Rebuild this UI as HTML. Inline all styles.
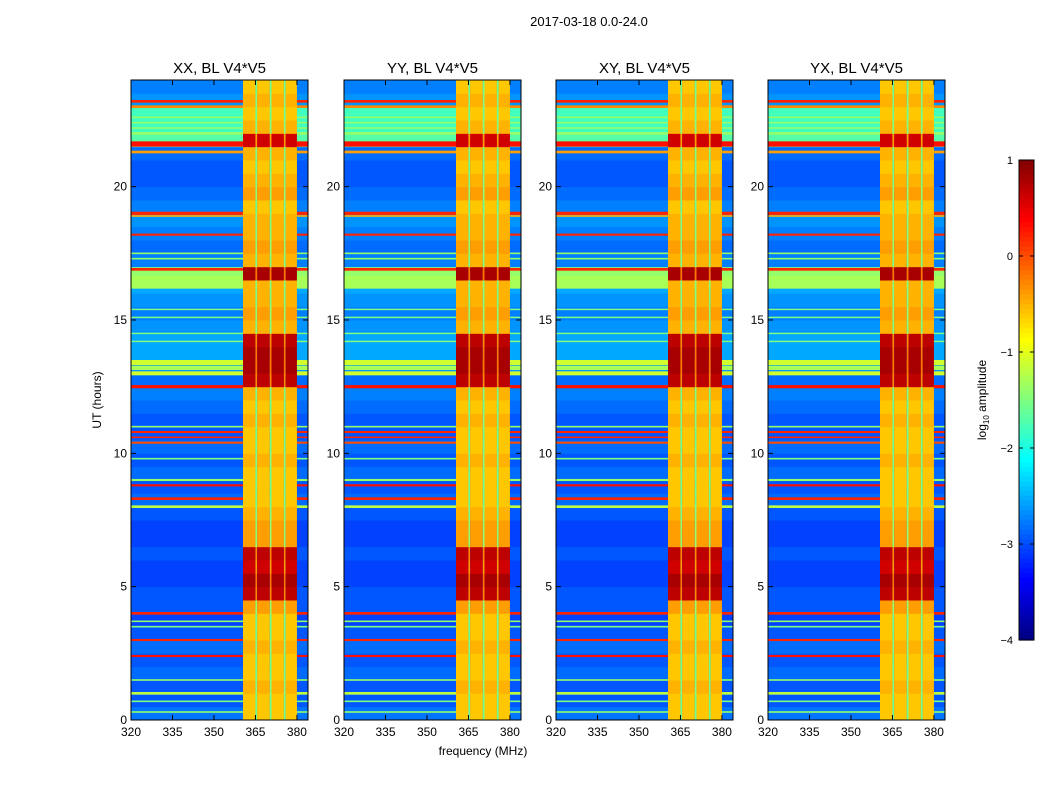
<!DOCTYPE html>
<html><head><meta charset="utf-8"><style>
body{margin:0;background:#fff;font-family:"Liberation Sans",sans-serif;}
svg text{font-family:"Liberation Sans",sans-serif;}
</style></head><body>
<svg id="fig" width="1050" height="800" xmlns="http://www.w3.org/2000/svg">
<rect width="1050" height="800" fill="#fff"/>
<text x="589" y="26" font-size="13" text-anchor="middle">2017-03-18 0.0-24.0</text>
<text x="483" y="755" font-size="12" text-anchor="middle">frequency (MHz)</text>
<text transform="translate(101,400) rotate(-90)" font-size="12" text-anchor="middle">UT (hours)</text>
<g id="panels"></g>
<g id="cbar"></g>
</svg>
<script>
const panelTitles=["XX, BL V4*V5","YY, BL V4*V5","XY, BL V4*V5","YX, BL V4*V5"];
const xTicks=[320,335,350,365,380];
const yTicks=[0,5,10,15,20];
const cbTicks=[1,0,-1,-2,-3,-4];
const cbLabels=["1","0","\u22121","\u22122","\u22123","\u22124"];
// hot band (360.5-380 MHz) level per 0.5h row
const hotRows=[-0.6,-0.6,-0.5,-0.6,-0.6,-0.5,-0.6,-0.6,-0.4,0.7,0.8,0.6,0.7,-0.4,-0.4,-0.5,-0.6,-0.6,-0.6,-0.5,-0.6,-0.6,-0.5,-0.6,-0.5,0.7,0.8,0.8,0.7,-0.5,-0.4,-0.5,-0.5,0.8,-0.5,-0.4,-0.5,-0.5,-0.6,-0.4,-0.5,-0.6,-0.5,0.6,-0.5,-0.6,-0.5,-0.6];
// background (320-360 MHz) level per 0.5h row
const bgRows=[-2.8,-2.95,-2.95,-2.85,-2.95,-2.85,-2.95,-3.05,-2.95,-2.95,-3.05,-3.05,-2.95,-3.05,-3.05,-2.95,-2.85,-2.95,-2.85,-2.95,-2.85,-2.95,-2.95,-2.85,-2.75,-2.85,-2.65,-2.55,-2.55,-2.65,-2.75,-2.65,-2.55,-1.4,-2.75,-2.85,-2.75,-2.65,-2.75,-2.85,-2.95,-2.95,-2.85,-1.7,-1.8,-1.8,-2.65,-2.75];
// sub-column edges and offsets within hot band
const hotEdges=[360.5,365,365.6,370.2,370.8,375.3,375.9,380];
const hotOffsets=[0,-1.0,0,-1.0,0,-1.0,0];
// full-width line events: time (h), thickness (h), level
const lineTimes=[23.2,23.0,22.6,22.4,22.2,22.0,21.6,21.3,19.0,18.9,18.2,17.5,17.3,16.9,16.5,16.3,15.4,15.1,14.5,14.2,13.4,13.2,13.0,12.5,11.0,10.8,10.6,10.4,9.8,9.0,8.8,8.3,8.0,4.0,3.7,3.5,3.0,2.4,1.5,1.0,0.7,0.3];
const lineWidths=[0.1,0.1,0.06,0.06,0.06,0.1,0.2,0.1,0.12,0.06,0.08,0.06,0.06,0.1,0.3,0.25,0.05,0.05,0.05,0.05,0.2,0.15,0.15,0.12,0.06,0.08,0.06,0.08,0.06,0.08,0.08,0.1,0.1,0.1,0.06,0.06,0.08,0.08,0.06,0.1,0.06,0.06];
const lineLevels=[0.2,-0.3,-1.4,-1.4,-1.4,-1.4,0.3,-0.4,0.2,-0.5,0.2,-1.4,-1.4,0.2,-1.3,-1.3,-1.5,-1.5,-1.5,-1.5,-1.1,-1.3,-1.1,0.3,-1.4,0.2,0.2,0.0,-1.5,-1.4,0.3,0.2,-1.2,0.2,-1.4,-1.5,0.2,0.3,-1.4,-1.2,-1.5,-1.4];

function jet(v){let t=(v+4)/5;t=Math.max(0,Math.min(1,t));
 const f=x=>Math.max(0,Math.min(1,x));
 const r=f(1.5-Math.abs(4*t-3)),g=f(1.5-Math.abs(4*t-2)),b=f(1.5-Math.abs(4*t-1));
 return `rgb(${Math.round(r*255)},${Math.round(g*255)},${Math.round(b*255)})`;}
const NS="http://www.w3.org/2000/svg";
function mk(tag,attrs,parent){const e=document.createElementNS(NS,tag);for(const k in attrs)e.setAttribute(k,attrs[k]);parent.appendChild(e);return e;}
const lefts=[131,344,556,768],W=177,topY=80,H=640,fMin=320,fMax=384;
const P=document.getElementById('panels');
lefts.forEach((L,pi)=>{
 const xs=f=>L+(f-fMin)/(fMax-fMin)*W, ys=t=>topY+H-(t/24)*H;
 const g=mk('g',{},P);
 
 
 mk('rect',{x:L,y:topY,width:W,height:H,fill:jet(-2.9)},g);
 for(let i=0;i<bgRows.length;i++){
  const t0=i*0.5,y1=ys(t0+0.5),y0=ys(t0);
  const r=mk('rect',{x:L,y:y1,width:W,height:y0-y1+0.5,fill:jet(bgRows[i])},g);
  
  
 }
 for(let i=0;i<lineTimes.length;i++){
  const y1=ys(lineTimes[i]+lineWidths[i]/2),y0=ys(lineTimes[i]-lineWidths[i]/2);
  const r=mk('rect',{x:L,y:y1,width:W,height:Math.max(1.5,y0-y1),fill:jet(lineLevels[i])},g);
  
  
 }
 for(let i=0;i<hotRows.length;i++){
  const y1=ys(i*0.5+0.5),y0=ys(i*0.5);
  for(let j=0;j<hotOffsets.length;j++){
   const x0=xs(hotEdges[j]),x1=xs(hotEdges[j+1]);
   const r=mk('rect',{x:x0,y:y1,width:x1-x0,height:y0-y1+0.5,fill:jet(hotRows[i]+hotOffsets[j])},g);
   
   
  }
 }
 mk('rect',{x:L,y:topY,width:W,height:H,fill:'none',stroke:'#000','stroke-width':1},g);
 xTicks.forEach(v=>{const x=xs(v);
  mk('line',{x1:x,x2:x,y1:topY+H,y2:topY+H-5,stroke:'#000'},g);
  mk('line',{x1:x,x2:x,y1:topY,y2:topY+5,stroke:'#000'},g);
  const t=mk('text',{x:x,y:topY+H+16,'font-size':12,'text-anchor':'middle'},g);t.textContent=v;
  });
 yTicks.forEach(v=>{const y=ys(v);
  mk('line',{x1:L,x2:L+5,y1:y,y2:y,stroke:'#000'},g);
  mk('line',{x1:L+W,x2:L+W-5,y1:y,y2:y,stroke:'#000'},g);
  const t=mk('text',{x:L-4,y:y+4,'font-size':12,'text-anchor':'end'},g);t.textContent=v;
  });
 const tt=mk('text',{x:L+W/2,y:73,'font-size':15,'text-anchor':'middle'},g);tt.textContent=panelTitles[pi];
 
});
const C=document.getElementById('cbar');


const cx=1019,cw=15,ct=160,ch=480,cy=v=>ct+(1-v)/5*ch;
for(let k=0;k<100;k++){const v=1-k*0.05;mk('rect',{x:cx,y:cy(v),width:cw,height:ch/100+0.6,fill:jet(v-0.025)},C);}
mk('rect',{x:cx,y:ct,width:cw,height:ch,fill:'none',stroke:'#000'},C);
cbTicks.forEach((v,i)=>{const y=cy(v);
 mk('line',{x1:cx,x2:cx+4,y1:y,y2:y,stroke:'#000'},C);
 mk('line',{x1:cx+cw,x2:cx+cw-4,y1:y,y2:y,stroke:'#000'},C);
 const t=mk('text',{x:cx-6,y:y+4,'font-size':11,'text-anchor':'end'},C);t.textContent=cbLabels[i];
 });
const cl=mk('text',{transform:'translate(986,400) rotate(-90)','font-size':12,'text-anchor':'middle'},C);
cl.innerHTML='log<tspan font-size="8" dy="3">10</tspan><tspan dy="-3"> amplitude</tspan>';


</script>
</body></html>
